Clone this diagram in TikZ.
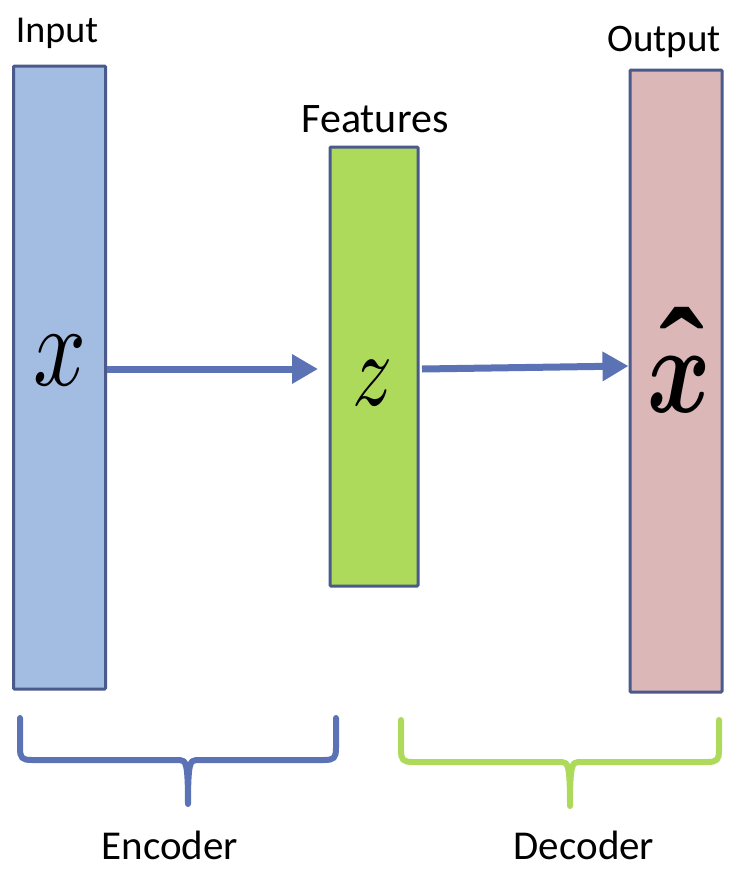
\documentclass[tikz,border=0pt]{standalone}
\usepackage{amsmath,bm}
\usepackage[no-math]{fontspec}
\setmainfont{Carlito}
\newfontfamily\hatfont{Liberation Serif}
\DeclareFontShape{OML}{cmm}{m}{it}{<->cmmi10}{}
\DeclareFontShape{OML}{cmm}{b}{it}{<->cmmib10}{}
\DeclareFontShape{OMS}{cmsy}{m}{n}{<->cmsy10}{}
\DeclareFontShape{OMS}{cmsy}{b}{n}{<->cmbsy10}{}
\DeclareFontShape{OT1}{cmr}{m}{n}{<->cmr10}{}
\DeclareFontShape{OT1}{cmr}{bx}{n}{<->cmbx10}{}
\DeclareFontShape{OMX}{cmex}{m}{n}{<->cmex10}{}
\usetikzlibrary{arrows.meta}
\definecolor{bordc}{HTML}{4A5A8C}
\definecolor{inpc}{HTML}{A3BCE2}
\definecolor{featc}{HTML}{AEDA5C}
\definecolor{outc}{HTML}{DBB7B7}
\definecolor{arrc}{HTML}{5B73B5}
\tikzset{
  layer/.style={draw=bordc, line width=3pt, rounded corners=1pt, inner sep=0pt, minimum width=92pt},
  lbl/.style={font=\fontsize{41}{44}\selectfont, inner sep=0pt},
  mth/.style={anchor=base, inner sep=0pt},
  conn/.style={draw=arrc, line width=7pt, -{Triangle[length=26pt,width=28pt]}},
  brace/.style={line width=6pt, line cap=round, line join=round}
}
\begin{document}
\begin{tikzpicture}[x=1pt,y=-1pt]
\useasboundingbox (0,0) rectangle (747,873);
\node[layer, fill=inpc, minimum height=623pt] (inp) at (59.5,377.5) {};
\node[layer, fill=featc, minimum width=88pt, minimum height=439pt] (feat) at (374,366.5) {};
\node[layer, fill=outc, minimum height=622pt] (out) at (676,381) {};
\node[lbl, font=\fontsize{38}{42}\selectfont] (tinp) at (57,33) {Input};
\node[lbl, font=\fontsize{42}{46}\selectfont] (tfeat) at (375,119) {Features};
\node[lbl, font=\fontsize{39}{43}\selectfont] (tout) at (664,42) {Output};
\node[lbl] (tenc) at (170,845) {Encoder};
\node[lbl] (tdec) at (584,845) {Decoder};
\node[mth] (mx) at (60,385) {\scalebox{0.8}[1]{\fontsize{116}{116}\selectfont $x$}};
\node[mth] (mz) at (373,405) {\scalebox{0.76}[1]{\fontsize{104}{104}\selectfont $z$}};
\node[mth] (mxh) at (679,412) {\rlap{\hspace{12pt}\raisebox{10pt}{\hatfont\bfseries\fontsize{135}{135}\selectfont ˆ}}\scalebox{0.77}[1]{\fontsize{125}{125}\selectfont $\bm{x}$}};
\coordinate (a1s) at (inp.east |- 0,369);
\coordinate (a1e) at (318,369);
\coordinate (a2s) at (422,369);
\coordinate (a2e) at (out.west |- 0,366);
\draw[conn] (a1s) -- (a1e);
\draw[conn] (a2s) -- (a2e);
% braces
\coordinate (b1l) at (20,718);
\coordinate (b1r) at (336,718);
\coordinate (b1t) at (188,804);
\draw[brace, arrc] (b1l) -- (20,748) .. controls (20,758) and (22,760) .. (32,760) -- (180,760)
  .. controls (186,760) and (188,764) .. (b1t)
  (b1r) -- (336,748) .. controls (336,758) and (334,760) .. (324,760) -- (196,760)
  .. controls (190,760) and (188,764) .. (b1t);
\coordinate (b2l) at (401,720);
\coordinate (b2r) at (719,720);
\coordinate (b2t) at (570,806);
\draw[brace, featc] (b2l) -- (401,750) .. controls (401,760) and (403,762) .. (413,762) -- (562,762)
  .. controls (568,762) and (570,766) .. (b2t)
  (b2r) -- (719,750) .. controls (719,760) and (717,762) .. (707,762) -- (578,762)
  .. controls (572,762) and (570,766) .. (b2t);
\end{tikzpicture}
\end{document}
